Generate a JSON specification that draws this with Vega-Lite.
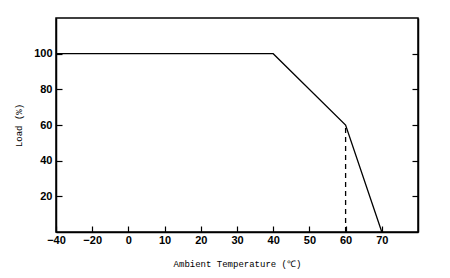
{
  "$schema": "https://vega.github.io/schema/vega-lite/v6.json",
  "autosize": "none",
  "padding": {"left": 56, "top": 18, "right": 32, "bottom": 46},
  "width": 362,
  "height": 214,
  "background": "white",
  "config": {
    "view": {"stroke": "black", "strokeWidth": 1.5},
    "axis": {
      "domainColor": "black",
      "tickColor": "black",
      "labelColor": "black",
      "titleColor": "black",
      "labelFont": "Liberation Sans",
      "labelFontWeight": "bold",
      "labelFontSize": 11,
      "titleFont": "Liberation Mono",
      "titleFontWeight": "normal",
      "titleFontSize": 9,
      "grid": false,
      "tickSize": -6,
      "tickWidth": 1.2,
      "domainWidth": 1.5
    }
  },
  "datasets": {
    "curve": [
      {"temp": -40, "load": 100},
      {"temp": 40, "load": 100},
      {"temp": 60, "load": 60},
      {"temp": 70, "load": 0}
    ],
    "marker": [
      {"temp": 60, "low": 0, "high": 60}
    ]
  },
  "layer": [
    {
      "data": {"name": "curve"},
      "mark": {"type": "line", "color": "black", "strokeWidth": 1.3, "clip": true},
      "encoding": {
        "x": {
          "field": "temp",
          "type": "quantitative",
          "scale": {"domain": [-40, 0, 80], "range": [0, 72.4, 362], "nice": false, "zero": false},
          "axis": {
            "values": [-40, -20, 0, 10, 20, 30, 40, 50, 60, 70],
            "title": "Ambient Temperature (℃)",
            "titlePadding": 14,
            "labelPadding": 8,
            "labelFlush": false
          }
        },
        "y": {
          "field": "load",
          "type": "quantitative",
          "scale": {"domain": [0, 120], "nice": false},
          "axis": {
            "values": [20, 40, 60, 80, 100],
            "title": "Load (%)",
            "titlePadding": 10,
            "labelPadding": 10
          }
        }
      }
    },
    {
      "data": {"name": "curve"},
      "mark": {"type": "point", "opacity": 0},
      "encoding": {
        "y": {
          "field": "load",
          "type": "quantitative",
          "scale": {"domain": [0, 120], "nice": false},
          "axis": {
            "orient": "right",
            "values": [20, 40, 60, 80, 100],
            "labels": false,
            "title": null
          }
        }
      }
    },
    {
      "data": {"name": "marker"},
      "mark": {"type": "rule", "color": "black", "strokeWidth": 1.3, "strokeDash": [5, 4]},
      "encoding": {
        "x": {"field": "temp", "type": "quantitative"},
        "y": {"field": "low", "type": "quantitative", "axis": null},
        "y2": {"field": "high"}
      }
    }
  ],
  "resolve": {"axis": {"y": "independent"}}
}
